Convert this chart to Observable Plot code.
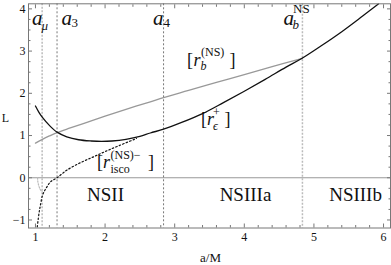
<!DOCTYPE html>
<html><head><meta charset="utf-8">
<script src="https://cdn.jsdelivr.net/npm/d3@7"></script>
<script src="https://cdn.jsdelivr.net/npm/@observablehq/plot@0.6"></script>
<style>body{margin:0;background:#fff} svg{display:block}</style>
</head><body><div id="chart"></div>
<script>
// r_eps^+ (solid black)
const epsA = [1.0,1.05,1.1,1.2,1.31,1.45,1.62,1.8,1.95,2.1,2.3,2.5,2.65,2.84,3.1,3.4,3.7,4.0,4.3,4.6,4.83,5.1,5.4,5.7,5.93];
const epsL = [1.70,1.55,1.43,1.24,1.08,0.97,0.90,0.87,0.86,0.87,0.91,0.98,1.06,1.15,1.31,1.52,1.78,2.05,2.33,2.62,2.83,3.12,3.46,3.83,4.12];
// r_b^(NS) (solid gray)
const rbA = [1.0,1.1,1.2,1.31,1.5,1.75,2.0,2.3,2.65,2.84,3.2,3.6,4.0,4.4,4.835];
const rbL = [0.82,0.91,0.99,1.07,1.18,1.32,1.46,1.62,1.80,1.90,2.07,2.26,2.44,2.63,2.83];
// r_isco^(NS)- (dotted black)
const iscoA = [1.02,1.05,1.07,1.1,1.13,1.17,1.22,1.31,1.45,1.65,1.84,2.0,2.2,2.45];
const iscoL = [-1.25,-0.85,-0.66,-0.42,-0.31,-0.2,-0.09,0,0.18,0.36,0.5,0.62,0.76,0.93];
// short light-gray dotted branch
const branchA = [1.03,1.035,1.05,1.07,1.096];
const branchL = [0.0,-0.1,-0.2,-0.28,-0.33];
// vertical markers
const markerNames = ["a_mu","a_3","a_4","a_b^NS"];
const markerA = [1.096, 1.31, 2.84, 4.835];
const markerLight = [true, false, false, true];
// region labels
const regionNames = ["NSII","NSIIIa","NSIIIb"];
const regionA = [2.006, 4.017, 5.598];
// ticks
const xTicks = [1,2,3,4,5,6];
const yTicks = [-1,0,1,2,3,4];
const xMinor = d3.range(1, 6.01, 0.2).map(v => +v.toFixed(2)).filter(v => Math.abs(v - Math.round(v)) > 1e-6);
const yMinor = d3.range(-1, 4.01, 0.25).map(v => +v.toFixed(2)).filter(v => Math.abs(v - Math.round(v)) > 1e-6);

const toRows = (xs, ys) => xs.map((x, i) => ({a: x, L: ys[i]}));
const eps = toRows(epsA, epsL), rb = toRows(rbA, rbL), isco = toRows(iscoA, iscoL), branch = toRows(branchA, branchL);
const markers = markerA.map((a, i) => ({a, name: markerNames[i], light: markerLight[i]}));
const regions = regionA.map((a, i) => ({a, name: regionNames[i]}));

const FONT = "Liberation Serif";
const frameColor = "#777";

function label(x, y, pieces) {
  return pieces.map(p => Plot.text([p.t], {
    x: () => x, y: () => y, text: d => d,
    dx: p.dx || 0, dy: p.dy || 0,
    fontSize: p.s || 18, fontStyle: p.i ? "italic" : "normal",
    textAnchor: "start", lineAnchor: "bottom", fill: "#111", fontFamily: FONT
  }));
}

const marks = [
  Plot.ruleY([0], {stroke: "#999", strokeWidth: 1}),
  Plot.ruleX(markers.filter(d => !d.light), {x: "a", stroke: "#555", strokeWidth: 0.8, strokeDasharray: "2,2"}),
  Plot.ruleX(markers.filter(d => d.light), {x: "a", stroke: "#bbb", strokeWidth: 1.5, strokeDasharray: "2,1.5"}),
  Plot.line(branch, {x: "a", y: "L", stroke: "#bbb", strokeWidth: 1.2, strokeDasharray: "1.5,1.5", curve: "catmull-rom", clip: true}),
  Plot.line(rb, {x: "a", y: "L", stroke: "#999", strokeWidth: 1.3, curve: "catmull-rom", clip: true}),
  Plot.line(isco, {x: "a", y: "L", stroke: "#111", strokeWidth: 1.2, strokeDasharray: "1.5,2.2", curve: "catmull-rom", clip: true}),
  Plot.line(eps, {x: "a", y: "L", stroke: "#111", strokeWidth: 1.3, curve: "catmull-rom", clip: true}),
  Plot.frame({stroke: frameColor, strokeWidth: 1}),
  // inward ticks
  Plot.axisX(xTicks, {anchor: "bottom", tickSize: -4, text: null, label: null, stroke: frameColor}),
  Plot.axisX(xMinor, {anchor: "bottom", tickSize: -2.5, text: null, label: null, stroke: frameColor}),
  Plot.axisX(xTicks, {anchor: "top", tickSize: -4, text: null, label: null, stroke: frameColor}),
  Plot.axisX(xMinor, {anchor: "top", tickSize: -2.5, text: null, label: null, stroke: frameColor}),
  Plot.axisY(yTicks, {anchor: "left", tickSize: -4, text: null, label: null, stroke: frameColor}),
  Plot.axisY(yMinor, {anchor: "left", tickSize: -2.5, text: null, label: null, stroke: frameColor}),
  Plot.axisY(yTicks, {anchor: "right", tickSize: -4, text: null, label: null, stroke: frameColor}),
  Plot.axisY(yMinor, {anchor: "right", tickSize: -2.5, text: null, label: null, stroke: frameColor}),
  // tick labels
  Plot.axisX(xTicks, {anchor: "bottom", tickSize: 0, tickPadding: 4, label: null, fontSize: 12, fill: "#111", fontFamily: FONT}),
  Plot.axisY(yTicks, {anchor: "left", tickSize: 0, tickPadding: 3, label: null, fontSize: 12, fill: "#111", fontFamily: FONT}),
  // axis labels
  Plot.text(["L"], {x: () => 0.9, y: () => 1.416, dx: -23, fontSize: 12, fontFamily: FONT, fill: "#111", lineAnchor: "middle"}),
  Plot.text(["a/M"], {x: () => 3.514, y: () => -1.19, dy: 33.5, fontSize: 13, fontFamily: FONT, fill: "#111", lineAnchor: "bottom"}),
  // region labels
  Plot.text(regions, {x: "a", y: () => -0.5534, text: "name", fontSize: 19, fontFamily: FONT, fill: "#111", lineAnchor: "bottom"}),
  // marker labels
  ...label(0.9497, 3.627, [{t: "a", i: true, s: 21}, {t: "μ", i: true, s: 13, dx: 9.5, dy: 5}]),
  ...label(1.3736, 3.627, [{t: "a", i: true, s: 21}, {t: "3", s: 13, dx: 10, dy: 2.5}]),
  ...label(2.688, 3.627, [{t: "a", i: true, s: 21}, {t: "4", s: 13, dx: 10.5, dy: 2.5}]),
  ...label(4.563, 3.627, [{t: "a", i: true, s: 21}, {t: "b", i: true, s: 13, dx: 9, dy: 4.5}, {t: "NS", s: 13, dx: 9.5, dy: -11.5}]),
  // curve labels
  ...label(3.1767, 2.653, [{t: "["}, {t: "r", i: true, dx: 6.5}, {t: "b", i: true, s: 12, dx: 13.5, dy: 4}, {t: "(NS)", s: 12, dx: 14, dy: -10}, {t: "]", dx: 42.5}]),
  ...label(3.378, 1.252, [{t: "["}, {t: "r", i: true, dx: 6}, {t: "ϵ", i: true, s: 12, dx: 12, dy: 5.5}, {t: "+", s: 12, dx: 12, dy: -9}, {t: "]", dx: 23.5}]),
  ...label(1.8836, 0.2304, [{t: "["}, {t: "r", i: true, dx: 6}, {t: "isco", s: 12, dx: 13.5, dy: 4.5}, {t: "(NS)−", s: 12, dx: 13.5, dy: -9.5}, {t: "]", dx: 51}])
];

const chart = Plot.plot({
  width: 391, height: 265,
  marginLeft: 28, marginRight: 1, marginTop: 3.3, marginBottom: 37.5,
  x: {domain: [0.9, 6.1]},
  y: {domain: [-1.19, 4.12]},
  style: {fontFamily: FONT, fontSize: "12px", background: "#fff", color: "#111"},
  marks
});
document.getElementById("chart").appendChild(chart);
</script>
</body></html>
